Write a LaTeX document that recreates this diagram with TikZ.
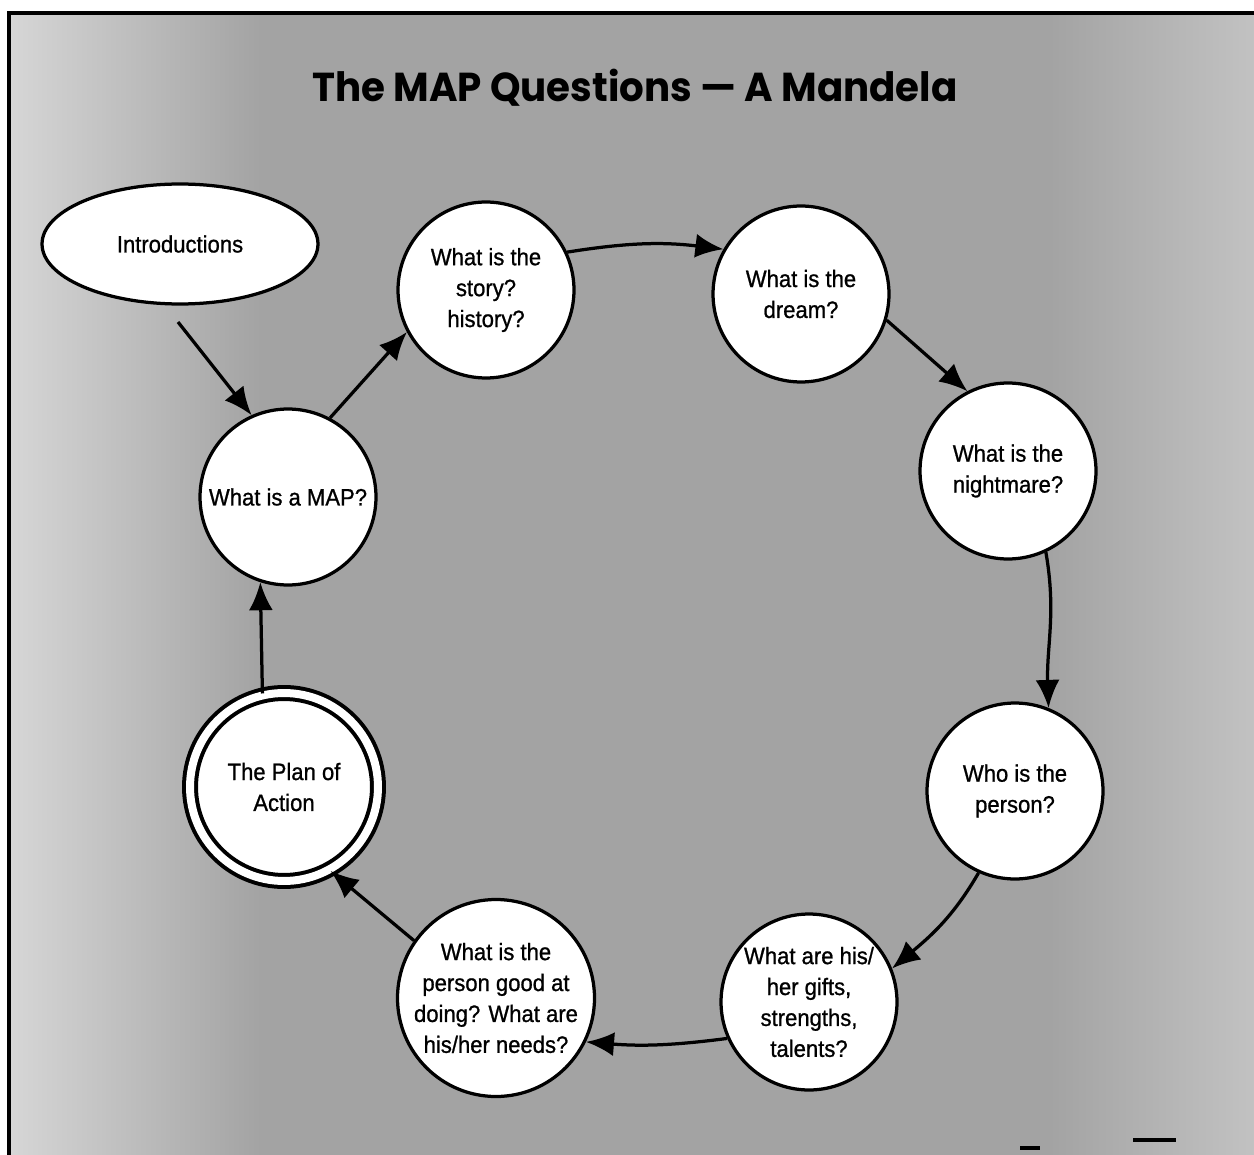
\documentclass[tikz,border=0pt]{standalone}
\usepackage{fontspec}
\setmainfont{Liberation Sans}[FakeStretch=0.93,FakeBold=0.9]
\newfontfamily\titlefont{Poppins}[FakeStretch=0.96]
\usetikzlibrary{arrows.meta,shapes.geometric}
\begin{document}
\begin{tikzpicture}[x=0.02cm,y=-0.02cm]
\tikzset{ques/.style = {circle, draw, line width=0.065cm, fill=white, minimum size=3.52cm,
   inner sep=0pt, align=center, font=\fontsize{13.5}{17.6}\selectfont},
 arr/.style = {line width=0.065cm, -{Latex[length=0.56cm,width=0.48cm]}}}
\useasboundingbox (0,0) rectangle (1254,1155);
\fill[black!36] (9,13) rectangle (1254,1155);
\shade[left color=black!16, right color=black!36] (9,13) rectangle (260,1155);
\shade[left color=black!36, right color=black!24] (1050,13) rectangle (1254,1155);
\draw[line width=0.08cm] (9,1155) -- (9,13) -- (1254,13);
\node[font=\titlefont\bfseries\fontsize{23}{28}\selectfont] (title) at (635,88) {The MAP Questions — A Mandela};
\node[ellipse, draw, line width=0.065cm, fill=white, minimum width=5.52cm, minimum height=2.4cm,
   font=\fontsize{13.5}{17.6}\selectfont] (intro) at (180,244) {Introductions};
\node[ques] (map) at (288,497) {What is a MAP?};
\node[ques] (story) at (486,290) {What is the\\story?\\history?};
\node[ques] (dream) at (801,294) {What is the\\dream?};
\node[ques] (night) at (1008,471) {What is the\\nightmare?};
\node[ques] (person) at (1015,791) {Who is the\\person?};
\node[ques] (gifts) at (809,1002) {What are his/\\her gifts,\\strengths,\\talents?};
\node[ques, minimum size=3.6cm] (needs) at (496,998) {What is the\\person good at\\doing? What are\\his/her needs?};
\node[ques, minimum size=3.76cm, double, double distance=0.16cm, line width=0.08cm] (plan) at (284,787) {The Plan of\\Action};
\coordinate (introtail) at (178,322);
\draw[arr] (introtail) -- (map.114);
\draw[arr] (map.62) -- (story.208);
\draw[arr] (story.25) to[bend left=8] (dream.150);
\draw[arr] (dream.-17) -- (night.117);
\draw[arr] (night.-65) to[out=-80,in=92] (person.68);
\draw[arr] (person.-114) to[out=-120,in=40] (gifts.22);
\draw[arr] (gifts.204) to[bend left=6] (needs.-26);
\draw[arr] (needs.145) -- (plan.-61);
\draw[arr] (plan.103) -- (map.252);
\draw[line width=0.07cm] (1133,1140) -- (1176,1140);
\draw[line width=0.07cm] (1020,1148) -- (1040,1148);
\end{tikzpicture}
\end{document}
